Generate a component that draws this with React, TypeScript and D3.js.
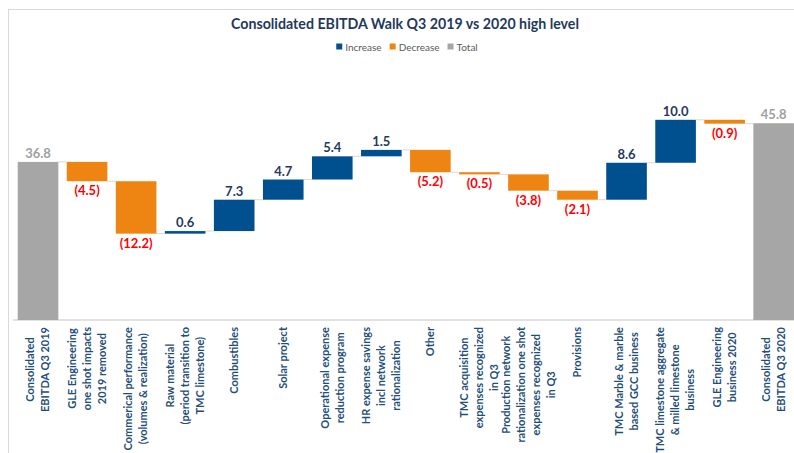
import * as d3 from 'd3'
import { useEffect, useRef } from 'react'

// waterfall steps, left to right
const categories: string[][] = [
  ['Consolidated', 'EBITDA Q3 2019'],
  ['GLE Engineering', 'one shot impacts', '2019 removed'],
  ['Commerical performance', '(volumes & realization)'],
  ['Raw material', '(period transition to', 'TMC limestone)'],
  ['Combustibles'],
  ['Solar project'],
  ['Operational expense', 'reduction program'],
  ['HR expense savings', 'incl network', 'rationalization'],
  ['Other'],
  ['TMC acquisition', 'expenses recognized', 'in Q3'],
  ['Production network', 'rationalization one shot', 'expenses recognized', 'in Q3'],
  ['Provisions'],
  ['TMC Marble & marble', 'based GCC business'],
  ['TMC limestone aggregate', '& milled limestone', 'business'],
  ['GLE Engineering', 'business 2020'],
  ['Consolidated', 'EBITDA Q3 2020'],
]
const values = [36.8, -4.5, -12.2, 0.6, 7.3, 4.7, 5.4, 1.5, -5.2, -0.5, -3.8, -2.1, 8.6, 10.0, -0.9, 45.8]
const kinds = ['total', 'dec', 'dec', 'inc', 'inc', 'inc', 'inc', 'inc', 'dec', 'dec', 'dec', 'dec', 'inc', 'inc', 'dec', 'total']
const legendItems = [
  { key: 'inc', label: 'Increase' },
  { key: 'dec', label: 'Decrease' },
  { key: 'total', label: 'Total' },
]

const colors: Record<string, string> = { inc: '#00508f', dec: '#ee8411', total: '#a6a6a6' }
const labelColors: Record<string, string> = { inc: '#1f3b5e', dec: '#ff0000', total: '#a0a0a0' }
const FONT = 'Lato, "Open Sans", sans-serif'

export default function App() {
  const ref = useRef<SVGSVGElement | null>(null)

  useEffect(() => {
    if (!ref.current) return
    const width = 794
    const height = 453
    const svg = d3.select(ref.current)
    svg.selectAll('*').remove()

    let run = 0
    const steps = values.map((v, i) => {
      const kind = kinds[i]
      let start: number, end: number
      if (kind === 'total') { start = 0; end = v; run = v } else { start = run; end = run + v; run = end }
      return { i, v, kind, start, end, lines: categories[i] }
    })

    const x = d3.scaleBand<number>()
      .domain(steps.map(d => d.i))
      .range([9.3, 802.4])
      .padding(0.172)

    const y = d3.scaleLinear().domain([0, 50]).range([320, 105.2])

    svg.append('rect')
      .attr('x', 8.5).attr('y', 9.5)
      .attr('width', width).attr('height', height)
      .attr('fill', 'white').attr('stroke', '#d9d9d9')

    svg.append('text')
      .attr('x', 405).attr('y', 29)
      .attr('text-anchor', 'middle')
      .attr('font-family', FONT).attr('font-weight', 700).attr('font-size', 14.2)
      .attr('fill', '#1f3a5c')
      .text('Consolidated EBITDA Walk Q3 2019 vs 2020 high level')

    // legend
    const lg = svg.append('g')
    let lx = 0
    legendItems.forEach(item => {
      lg.append('rect').attr('x', lx).attr('y', -3.5).attr('width', 6).attr('height', 6).attr('fill', colors[item.key])
      const t = lg.append('text')
        .attr('x', lx + 9).attr('y', 3.5)
        .attr('font-family', FONT).attr('font-size', 10).attr('fill', '#595959')
        .text(item.label)
      lx += 9 + (t.node() as SVGTextElement).getComputedTextLength() + 8
    })
    lg.attr('transform', `translate(${407 - (lx - 8) / 2}, 47)`)

    // axis line
    svg.append('line')
      .attr('x1', 13).attr('x2', width)
      .attr('y1', y(0)).attr('y2', y(0))
      .attr('stroke', '#d9d9d9').attr('stroke-width', 1.5)

    // connectors
    svg.selectAll('.conn')
      .data(steps.slice(0, -1))
      .join('line')
      .attr('x1', d => x(d.i)! + x.bandwidth())
      .attr('x2', d => x(d.i + 1)!)
      .attr('y1', d => y(d.end)).attr('y2', d => y(d.end))
      .attr('stroke', '#d9d9d9').attr('stroke-width', 1)

    svg.selectAll('.bar')
      .data(steps)
      .join('rect')
      .attr('x', d => x(d.i)!)
      .attr('width', x.bandwidth())
      .attr('y', d => y(Math.max(d.start, d.end)))
      .attr('height', d => Math.max(1.5, Math.abs(y(d.start) - y(d.end))))
      .attr('fill', d => colors[d.kind])

    svg.selectAll('.val')
      .data(steps)
      .join('text')
      .attr('x', d => x(d.i)! + x.bandwidth() / 2)
      .attr('y', d => d.kind === 'dec' ? y(d.end) + 14 : y(d.end) - 4)
      .attr('text-anchor', 'middle')
      .attr('font-family', FONT).attr('font-weight', 700).attr('font-size', 13)
      .attr('fill', d => labelColors[d.kind])
      .text(d => d.v < 0 ? `(${d3.format('.1f')(-d.v)})` : d3.format('.1f')(d.v))

    // rotated category labels
    const cat = svg.selectAll('.cat')
      .data(steps)
      .join('g')
      .attr('transform', d => `translate(${x(d.i)! + x.bandwidth() / 2}, 327) rotate(-90)`)

    cat.each(function (d) {
      const g = d3.select(this)
      const n = d.lines.length
      const texts = d.lines.map((line, k) =>
        g.append('text')
          .attr('y', (k - (n - 1) / 2) * 15)
          .attr('dy', '0.35em')
          .attr('text-anchor', 'middle')
          .attr('font-family', FONT).attr('font-weight', 700).attr('font-size', 11)
          .attr('fill', '#1f4e79')
          .text(line))
      const maxLen = d3.max(texts, t => (t.node() as SVGTextElement).getComputedTextLength()) || 0
      texts.forEach(t => t.attr('x', -maxLen / 2))
    })
  }, [])

  return <svg ref={ref} width={794} height={453} style={{ position: 'absolute', left: 0, top: 0 }} />
}
